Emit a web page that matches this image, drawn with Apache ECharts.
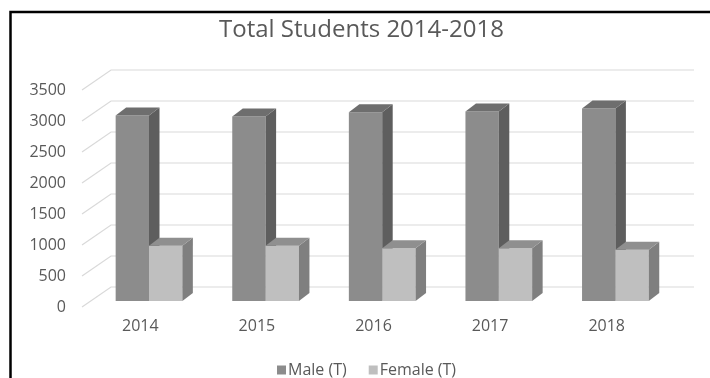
<!DOCTYPE html>
<html>
<head>
<meta charset="utf-8">
<script src="https://cdn.jsdelivr.net/npm/echarts@6/dist/echarts.min.js"></script>
<style>
html,body{margin:0;padding:0;background:#fff;}
#chart{width:710px;height:378px;}
</style>
</head>
<body>
<div id="chart"></div>
<script>
// ---- data ----
var categories = ['2014', '2015', '2016', '2017', '2018'];
var maleValues = [2990, 2975, 3045, 3055, 3105];
var femaleValues = [890, 890, 850, 850, 825];
var yTicks = [0, 500, 1000, 1500, 2000, 2500, 3000, 3500];
var seriesNames = ['Male (T)', 'Female (T)'];

// ---- style constants ----
var WALL_DX = 29, WALL_DY = -20;     // full depth of the 3D box
var BAR_OFF_X = 8.7, BAR_OFF_Y = -6; // bar front plane offset
var BAR_DX = 10.5, BAR_DY = -8;      // bar depth
var BAR_FRAC = 0.286;                // bar width as fraction of band

var maleColors = {front: '#8c8c8c', side: '#5e5e5e', top: '#6e6e6e'};
var femaleColors = {front: '#bfbfbf', side: '#7f7f7f', top: '#8f8f8f'};

function barRenderer(side, colors) {
  return function (params, api) {
    var idx = api.value(0);
    var v = api.value(1);
    var topPt = api.coord([idx, v]);
    var basePt = api.coord([idx, 0]);
    var band = api.size([1, 0])[0];
    var bw = band * BAR_FRAC;
    var cx = topPt[0] + BAR_OFF_X;
    var x1 = side === 0 ? cx - bw : cx;
    var x2 = x1 + bw;
    var yt = topPt[1] + BAR_OFF_Y;
    var yb = basePt[1] + BAR_OFF_Y;
    return {
      type: 'group',
      children: [
        {type: 'rect', shape: {x: x1, y: yt, width: bw, height: yb - yt},
         style: {fill: colors.front}},
        {type: 'polygon', shape: {points: [[x2, yt], [x2 + BAR_DX, yt + BAR_DY], [x2 + BAR_DX, yb + BAR_DY], [x2, yb]]},
         style: {fill: colors.side}},
        {type: 'polygon', shape: {points: [[x1, yt], [x1 + BAR_DX, yt + BAR_DY], [x2 + BAR_DX, yt + BAR_DY], [x2, yt]]},
         style: {fill: colors.top}}
      ]
    };
  };
}

function gridRenderer(params, api) {
  var v = api.value(1);
  var p = api.coord([0, v]);
  var cs = params.coordSys;
  var x0 = cs.x;
  var y = p[1];
  return {
    type: 'polyline',
    shape: {points: [[x0, y], [x0 + WALL_DX, y + WALL_DY], [x0 + cs.width + WALL_DX, y + WALL_DY]]},
    style: {stroke: '#d9d9d9', lineWidth: 1.2, fill: null}
  };
}

var chart = echarts.init(document.getElementById('chart'));
var option = {
  animation: false,
  backgroundColor: '#ffffff',
  title: {
    text: 'Total Students 2014-2018',
    left: 214, top: 13,
    textStyle: {fontFamily: 'Open Sans', fontSize: 24, fontWeight: 'normal', color: '#595959'}
  },
  legend: {
    data: seriesNames,
    left: 272, top: 357,
    icon: 'rect', itemWidth: 9, itemHeight: 9, itemGap: 22,
    textStyle: {fontFamily: 'Open Sans', fontSize: 16, color: '#595959', padding: [0, 0, 0, -3]}
  },
  grid: {left: 82, right: 45, top: 90, bottom: 71, containLabel: false},
  xAxis: {
    type: 'category',
    data: categories,
    axisLine: {show: false},
    axisTick: {show: false},
    axisLabel: {fontFamily: 'Open Sans', fontSize: 16, color: '#595959', margin: 11},
    splitLine: {show: false}
  },
  yAxis: {
    type: 'value',
    min: 0, max: 3500, interval: 500,
    axisLine: {show: false},
    axisTick: {show: false},
    axisLabel: {fontFamily: 'Open Sans', fontSize: 16, color: '#595959', margin: 16,
                formatter: function (v) { return String(v); }},
    splitLine: {show: false}
  },
  graphic: [{
    type: 'polyline',
    shape: {points: [[10.5, 380], [10.5, 12], [712, 12]]},
    style: {stroke: '#000', lineWidth: 2.5, fill: null},
    z: 100
  }],
  series: [
    {
      type: 'custom', name: 'grid', silent: true,
      renderItem: gridRenderer,
      data: yTicks.map(function (t) { return [0, t]; }),
      z: 1
    },
    {
      type: 'custom', name: seriesNames[0],
      itemStyle: {color: maleColors.front},
      renderItem: barRenderer(0, maleColors),
      data: maleValues.map(function (v, i) { return [i, v]; }),
      z: 2
    },
    {
      type: 'custom', name: seriesNames[1],
      itemStyle: {color: femaleColors.front},
      renderItem: barRenderer(1, femaleColors),
      data: femaleValues.map(function (v, i) { return [i, v]; }),
      z: 3
    }
  ]
};
chart.setOption(option);
</script>
</body>
</html>
